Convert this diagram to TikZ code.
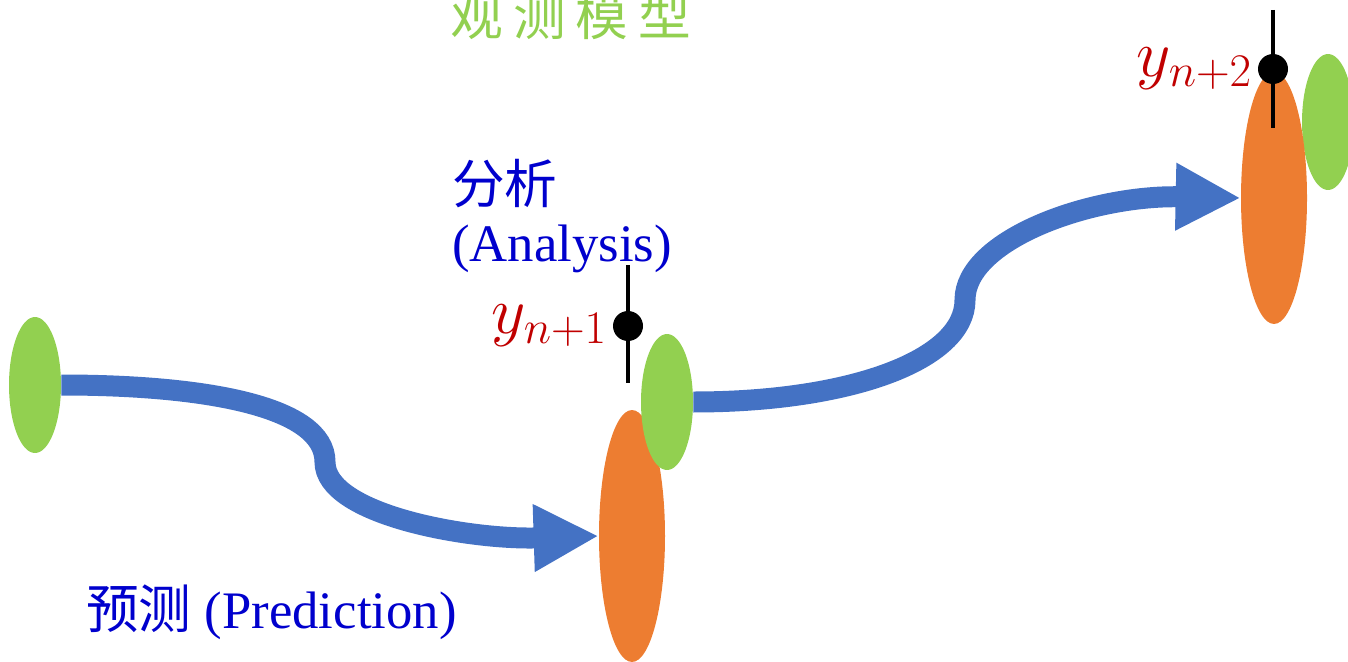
\RequirePackage{fix-cm}
\documentclass[tikz,border=0pt]{standalone}
\usepackage{fontspec}
\setmainfont{Liberation Serif}
\newfontfamily\cjk{Noto Sans CJK SC}
\usetikzlibrary{arrows.meta,positioning,shapes.geometric}
\definecolor{obsgreen}{RGB}{146,208,80}
\definecolor{fcorange}{RGB}{237,125,49}
\definecolor{flowblue}{RGB}{68,114,196}
\definecolor{txtblue}{RGB}{0,0,205}
\definecolor{obsred}{RGB}{192,0,0}

\begin{document}
\begin{tikzpicture}[x=0.02cm, y=-0.02cm,
    gauss/.style={ellipse, fill=#1, draw=none, inner sep=0pt},
    narrow/.style={gauss=obsgreen, minimum width=1.04cm, minimum height=2.72cm},
    wide/.style={gauss=fcorange, minimum width=1.32cm, minimum height=5.04cm},
    flow/.style={draw=flowblue, line width=0.42cm, -{Triangle[length=1.3cm, width=1.26cm]}},
    obsbar/.style={line width=0.08cm, black},
    obsdot/.style={circle, fill=black, inner sep=0pt, minimum size=0.6cm},
    bluetxt/.style={text=txtblue, font=\fontsize{30}{33}\selectfont},
    ylab/.style={text=obsred, font=\fontsize{38}{44}\selectfont, inner sep=1pt}]
  \useasboundingbox (0,0) rectangle (1348,662);

  % ensemble spread at each step
  \node[narrow] (g1) at (35,385) {};
  \node[wide] (o1) at (632,536) {};
  \node[narrow] (g2) at (667,402) {};
  \node[narrow] (g3) at (1328,122) {};
  \node[wide] (o2) at (1274,198) {};

  % forecast steps
  \draw[flow] (g1.east) .. controls (200,385) and (325,405) .. (325,462)
                        .. controls (325,515) and (470,540) .. (o1.west);
  \draw[flow] (g2.east) .. controls (850,402) and (965,360) .. (965,300)
                        .. controls (965,240) and (1090,195) .. (o2.west);

  % observations
  \coordinate (d1top) at (628,265);
  \coordinate (d1bot) at (628,383);
  \draw[obsbar] (d1top) -- (d1bot);
  \node[obsdot] (d1) at (628,326) {};
  \coordinate (d2top) at (1273,10);
  \coordinate (d2bot) at (1273,128);
  \draw[obsbar] (d2top) -- (d2bot);
  \node[obsdot] (d2) at (1273,69) {};
  \node[ylab, left=2pt of d1] (y1) {$y_{n+1}$};
  \node[ylab, left=2pt of d2] (y2) {$y_{n+2}$};

  % labels
  \node[text=obsgreen, font=\cjk\fontsize{30}{36}\selectfont] (model) at (571,15)
       {观\hspace{0.2cm}测\hspace{0.2cm}模\hspace{0.2cm}型};
  \node[bluetxt, anchor=south west, align=left] (ana) at (446,279)
       {{\cjk 分析}\\(Analysis)};
  \node[bluetxt, anchor=south west] (pred) at (80,646) {{\cjk 预测} (Prediction)};
\end{tikzpicture}
\end{document}
